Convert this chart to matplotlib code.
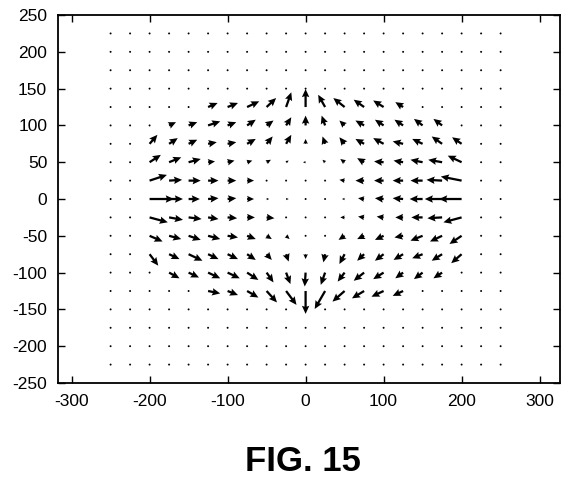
import matplotlib
matplotlib.use("Agg")
import matplotlib.pyplot as plt
import numpy as np

plt.rcParams['font.family'] = ['Liberation Sans', 'DejaVu Sans']
plt.rcParams['axes.unicode_minus'] = False

# grid of sample points
xs = [-250, -225, -200, -175, -150, -125, -100, -75, -50, -25, 0,
      25, 50, 75, 100, 125, 150, 175, 200, 225, 250]
ys = [225, 200, 175, 150, 125, 100, 75, 50, 25, 0,
      -25, -50, -75, -100, -125, -150, -175, -200, -225]

# horizontal displacement, one row per y value (top to bottom)
u = [
    [0, 0, 0, 0, 0, 0, 0, 0, 0, 0, 0, 0, 0, 0, 0, 0, 0, 0, 0, 0, 0],
    [0, 0, 0, 0, 0, 0, 0, 0, 0, 0, 0, 0, 0, 0, 0, 0, 0, 0, 0, 0, 0],
    [0, 0, 0, 0, 0, 0, 0, 0, 0, 0, 0, 0, 0, 0, 0, 0, 0, 0, 0, 0, 0],
    [0, 0, 0, 0, 0, 0, 0, 0, 0, 0, 0, 0, 0, 0, 0, 0, 0, 0, 0, 0, 0],
    [0, 0, 0, 0, 0, 11, 12, 14, 11, 6, 0, -8, -13, -12, -12, -9, 0, 0, 0, 0, 0],
    [0, 0, 0, 8, 10, 14, 10, 10, 8, 6, 0, -4, -6, -10, -10, -10, -10, -10, 0, 0, 0],
    [0, 0, 9, 10, 10, 10, 10, 10, 7, 6, 0, -3, -6, -10, -12, -12, -12, -12, -11, 0, 0],
    [0, 0, 13, 14, 14, 8, 8, 6, 5, 3, -3, -3, -5, -8, -11, -11, -14, -16, -16, 0, 0],
    [0, 0, 20, 15, 14, 12, 10, 8, 2, 1, 0, -2, -6, -10, -11, -12, -14, -18, -24, 0, 0],
    [0, 0, 28, 16, 13, 12, 10, 8, 3, 3, 0, 0, -3, -7, -10, -12, -15, -20, -26, 0, 0],
    [0, 0, 21, 16, 15, 12, 11, 9, 9, 2, 0, 0, -5, -7, -8, -9, -13, -17, -21, 0, 0],
    [0, 0, 15, 14, 14, 14, 12, 10, 6, 4, 0, 1, -7, -8, -10, -10, -14, -14, -14, 0, 0],
    [0, 0, 10, 12, 16, 12, 12, 10, 6, 3, 0, -2, -6, -8, -10, -11, -12, -12, -12, 0, 0],
    [0, 0, 0, 12, 12, 14, 14, 13, 8, 5, -1, -5, -8, -12, -12, -9, -10, -10, 0, 0, 0],
    [0, 0, 0, 0, 0, 14, 12, 13, 12, 12, 0, -12, -14, -14, -14, -12, 0, 0, 0, 0, 0],
    [0, 0, 0, 0, 0, 0, 0, 0, 0, 0, 0, 0, 0, 0, 0, 0, 0, 0, 0, 0, 0],
    [0, 0, 0, 0, 0, 0, 0, 0, 0, 0, 0, 0, 0, 0, 0, 0, 0, 0, 0, 0, 0],
    [0, 0, 0, 0, 0, 0, 0, 0, 0, 0, 0, 0, 0, 0, 0, 0, 0, 0, 0, 0, 0],
    [0, 0, 0, 0, 0, 0, 0, 0, 0, 0, 0, 0, 0, 0, 0, 0, 0, 0, 0, 0, 0],
]

# vertical displacement
v = [
    [0, 0, 0, 0, 0, 0, 0, 0, 0, 0, 0, 0, 0, 0, 0, 0, 0, 0, 0, 0, 0],
    [0, 0, 0, 0, 0, 0, 0, 0, 0, 0, 0, 0, 0, 0, 0, 0, 0, 0, 0, 0, 0],
    [0, 0, 0, 0, 0, 0, 0, 0, 0, 0, 0, 0, 0, 0, 0, 0, 0, 0, 0, 0, 0],
    [0, 0, 0, 0, 0, 0, 0, 0, 0, 0, 0, 0, 0, 0, 0, 0, 0, 0, 0, 0, 0],
    [0, 0, 0, 0, 0, 5, 5, 7, 11, 18, 22, 15, 11, 9, 8, 6, 0, 0, 0, 0, 0],
    [0, 0, 0, 4, 4, 5, 4, 7, 6, 10, 12, 12, 6, 6, 7, 7, 8, 8, 0, 0, 0],
    [0, 0, 11, 7, 5, 2, 2, 6, 9, 11, 6, 9, 8, 6, 7, 3, 6, 9, 8, 0, 0],
    [0, 0, 9, 6, 4, 1, 2, 2, 3, 2, 0, 3, 4, 5, 1, 2, 3, 3, 8, 0, 0],
    [0, 0, 7, 1, 0, 0, 0, 0, 1, 2, 0, 0, 1, 0, 0, 0, 0, 1, 5, 0, 0],
    [0, 0, 0, 0, 0, 1, 1, 0, 0, 0, 0, 0, 0, 1, 1, 1, 0, 0, 0, 0, 0],
    [0, 0, -6, -3, -2, -2, -1, 0, -1, 0, 0, 0, 0, 1, 1, 0, 0, -1, -6, 0, 0],
    [0, 0, -7, -4, -5, -4, -2, -4, -4, -4, -2, -1, -5, -4, -5, -2, -6, -7, -10, 0, 0],
    [0, 0, -14, -6, -8, -6, -6, -7, -7, -9, -6, -10, -12, -8, -8, -7, -5, -8, -11, 0, 0],
    [0, 0, 0, -7, -6, -7, -7, -9, -12, -14, -17, -15, -11, -10, -8, -7, -8, -7, 0, 0, 0],
    [0, 0, 0, 0, 0, -3, -5, -8, -14, -17, -28, -22, -13, -9, -7, -6, 0, 0, 0, 0, 0],
    [0, 0, 0, 0, 0, 0, 0, 0, 0, 0, 0, 0, 0, 0, 0, 0, 0, 0, 0, 0, 0],
    [0, 0, 0, 0, 0, 0, 0, 0, 0, 0, 0, 0, 0, 0, 0, 0, 0, 0, 0, 0, 0],
    [0, 0, 0, 0, 0, 0, 0, 0, 0, 0, 0, 0, 0, 0, 0, 0, 0, 0, 0, 0, 0],
    [0, 0, 0, 0, 0, 0, 0, 0, 0, 0, 0, 0, 0, 0, 0, 0, 0, 0, 0, 0, 0],
]

X, Y = np.meshgrid(xs, ys)
U = np.array(u, dtype=float)
V = np.array(v, dtype=float)

fig = plt.figure(figsize=(5.69, 4.87), dpi=100)
ax = fig.add_axes([0.1025, 0.2136, 0.8815, 0.7555])

# zero-length vectors come out as small dots, like the original
ax.quiver(X, Y, U, V, angles='xy', scale_units='xy', scale=0.9,
          color='black', width=0.0045, headwidth=3.3, headlength=3.6,
          headaxislength=3.2, minlength=0.95, minshaft=1)

ax.set_xlim(-317, 326)
ax.set_ylim(-250, 250)
ax.set_xticks(range(-300, 301, 100))
ax.set_yticks(range(-250, 251, 50))
ax.tick_params(direction='in', top=True, right=True, length=5, width=1,
               labelsize=12.5, pad=8)
for s in ax.spines.values():
    s.set_linewidth(1.3)

fig.text(0.533, 0.053, "FIG. 15", ha='center', va='center',
         fontsize=25, fontweight='bold')

fig.savefig("out.png", dpi=100)
